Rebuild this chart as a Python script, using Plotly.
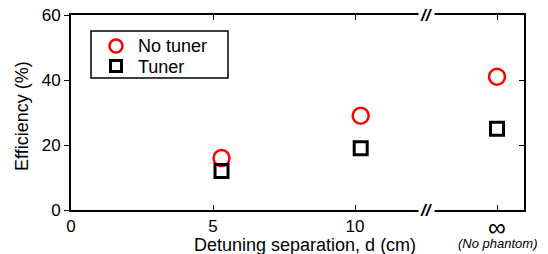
import plotly.graph_objects as go

# Data
x_pos = [5.3, 10.2, 15.0]          # 15.0 is the "infinity" (no phantom) position
no_tuner = [16, 29, 41]
tuner = [12, 19, 25]
series_names = ["No tuner", "Tuner"]
x_tickvals = [0, 5, 10, 15]
x_ticktext = ["0", "5", "10", ""]
y_tickvals = [0, 20, 40, 60]

FONT = "Liberation Sans, Arial, sans-serif"
RED = "#ff0000"

W, H = 548, 254
PL, PR, PT, PB = 71, 524, 15, 210   # plot area in page pixels
PW, PH = PR - PL, PB - PT


def px(x):
    return (x - PL) / PW


def py(y):
    return (PB - y) / PH


fig = go.Figure()
fig.add_trace(go.Scatter(
    x=x_pos, y=no_tuner, mode="markers", name=series_names[0],
    marker=dict(symbol="circle-open", size=16, color=RED, line=dict(width=2.5, color=RED)),
))
fig.add_trace(go.Scatter(
    x=x_pos, y=tuner, mode="markers", name=series_names[1],
    marker=dict(symbol="square-open", size=13, color="black", line=dict(width=3, color="black")),
))
# invisible trace on yaxis2 for right-side axis
fig.add_trace(go.Scatter(x=[None], y=[None], yaxis="y2", showlegend=False, hoverinfo="skip"))

fig.update_layout(
    width=W, height=H,
    margin=dict(l=PL, r=W - PR, t=PT, b=H - PB, autoexpand=False),
    paper_bgcolor="white", plot_bgcolor="white",
    font=dict(family=FONT, color="black", size=17),
    showlegend=False,
    xaxis=dict(
        range=[0, 15.95], tickvals=x_tickvals, ticktext=x_ticktext,
        ticks="inside", ticklen=5, tickwidth=1, tickcolor="black",
        showline=True, linecolor="black", linewidth=2, mirror="ticks",
        showgrid=False, zeroline=False, tickfont=dict(size=17),
        ticklabeloverflow="allow", automargin=False,
    ),
    yaxis=dict(
        range=[0, 60], tickvals=y_tickvals,
        ticks="outside", ticklen=5, tickwidth=1, tickcolor="black",
        showline=True, linecolor="black", linewidth=2,
        showgrid=False, zeroline=False, tickfont=dict(size=17),
        ticklabeloverflow="allow", automargin=False,
    ),
    yaxis2=dict(
        range=[0, 60], tickvals=y_tickvals, overlaying="y", side="right",
        ticks="inside", ticklen=5, tickwidth=1, tickcolor="black",
        showline=True, linecolor="black", linewidth=2,
        showticklabels=False, showgrid=False, zeroline=False, automargin=False,
    ),
)

# Legend (drawn manually for tight spacing)
fig.add_shape(type="rect", xref="paper", yref="paper",
              x0=px(91), x1=px(228), y0=py(78), y1=py(31),
              line=dict(color="black", width=1.5), fillcolor="white", layer="above")
fig.add_shape(type="circle", xref="paper", yref="paper", xsizemode="pixel", ysizemode="pixel",
              xanchor=px(116), yanchor=py(46), x0=-6.5, x1=6.5, y0=-6.5, y1=6.5,
              line=dict(color=RED, width=2.5), layer="above")
fig.add_shape(type="rect", xref="paper", yref="paper", xsizemode="pixel", ysizemode="pixel",
              xanchor=px(116), yanchor=py(66), x0=-5.5, x1=5.5, y0=-5.5, y1=5.5,
              line=dict(color="black", width=3), layer="above")
fig.add_annotation(text=series_names[0], xref="paper", yref="paper", x=px(136), y=py(46),
                   showarrow=False, font=dict(size=18, family=FONT), xanchor="left", yanchor="middle")
fig.add_annotation(text=series_names[1], xref="paper", yref="paper", x=px(136), y=py(67),
                   showarrow=False, font=dict(size=18, family=FONT), xanchor="left", yanchor="middle")

# Axis titles
fig.add_annotation(text="Detuning separation, d (cm)", xref="paper", yref="paper",
                   x=px(305), y=py(245), showarrow=False,
                   font=dict(size=18, family=FONT), xanchor="center", yanchor="middle")
fig.add_annotation(text="Efficiency (%)", xref="paper", yref="paper",
                   x=px(22), y=py(116), showarrow=False, textangle=-90,
                   font=dict(size=18, family=FONT), xanchor="center", yanchor="middle")
# Infinity label and note
fig.add_annotation(text="∞", xref="x", yref="paper", x=15, y=py(227),
                   showarrow=False, font=dict(size=25, family=FONT), xanchor="center", yanchor="middle")
fig.add_annotation(text="<i>(No phantom)</i>", xref="x", yref="paper", x=15, y=py(243),
                   showarrow=False, font=dict(size=13, family=FONT), xanchor="center", yanchor="middle")
# Axis breaks
for yy in (0, 1):
    fig.add_annotation(text="<b><i>//</i></b>", xref="x", yref="paper", x=12.5, y=yy,
                       showarrow=False, font=dict(size=17, family=FONT), bgcolor="white",
                       borderpad=1, xanchor="center", yanchor="middle")

fig.write_html("out.html", config={"displayModeBar": False},
               post_script="document.body.style.margin='0px';")
